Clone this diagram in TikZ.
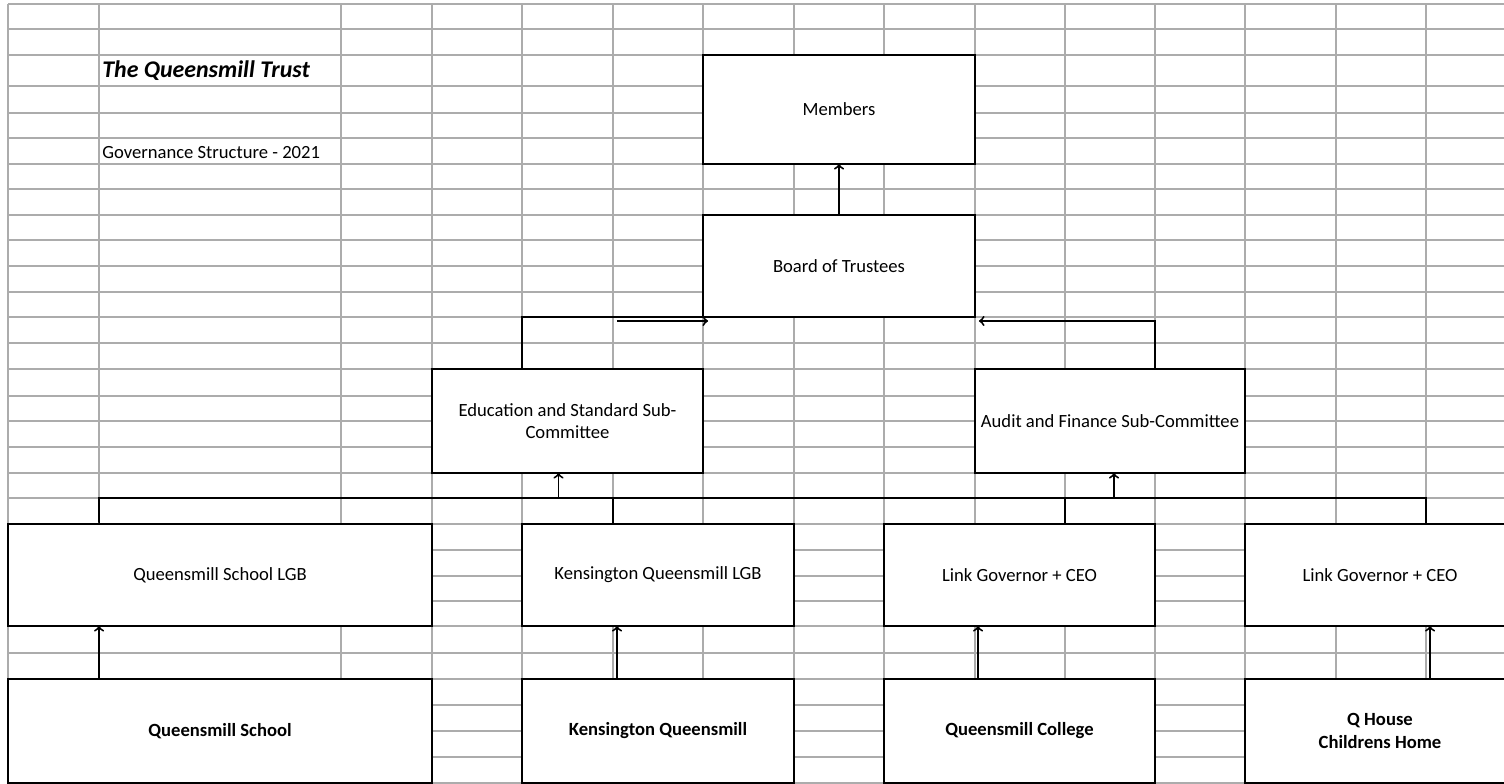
\documentclass[tikz,border=0pt]{standalone}
\usepackage{fontspec}
\setmainfont{Carlito}
\usepackage{tikz}
\usetikzlibrary{positioning}
\usetikzlibrary{arrows,shapes}
\usetikzlibrary{calc}
\definecolor{gridgrey}{RGB}{172,172,172}
\newcommand{\cellfont}{\fontsize{10.6pt}{12.6pt}\selectfont}
\newcommand{\titlefont}{\fontsize{13.6pt}{16pt}\selectfont\bfseries\itshape}
\tikzstyle{cellbox}=[rectangle,draw=black,fill=white,line width=0.9pt,inner sep=0pt,outer sep=0pt,align=center,font=\cellfont]
\tikzstyle{schoolbox}=[cellbox,font=\cellfont\bfseries]
\tikzstyle{gridline} = [draw,gridgrey,line width=1.1pt]
\tikzstyle{link} = [draw,line width=0.9pt]
\tikzstyle{flow} = [draw,line width=1.1pt,->]

\begin{document}
\begin{tikzpicture}[x=0.02cm,y=-0.02cm]
    \useasboundingbox (0,0) rectangle (1504,784);

    % spreadsheet grid
    \foreach \col in {8,99,341,432,522,613,703,794,884,975,1065,1155,1245,1336,1426}
        \path[gridline] (\col,4) -- (\col,784);
    \foreach \row in {4,29,55,86,113,138,164,189,215,240,266,292,317,343,369,396,421,447,473,498,524,550,576,601,626,653,679,705,731,757,783}
        \path[gridline] (8,\row) -- (1504,\row);

    \node[anchor=west,inner sep=0pt,font=\titlefont] (title) at (102,71) {The Queensmill Trust};
    \node[anchor=west,inner sep=0pt,font=\cellfont] (subtitle) at (102,153) {Governance Structure - 2021};

    \foreach \pos/\w/\h/\name/\txt in {{(839,109.5)/5.44/2.18/members/Members}, {(839,266)/5.44/2.04/board/Board of Trustees}, {(567.5,421)/5.42/2.08/edu/Education and Standard Sub-\\Committee}, {(1110,421)/5.40/2.08/audit/Audit and Finance Sub-Committee}, {(220,575)/8.48/2.04/qslgb/Queensmill School LGB}, {(658,575)/5.44/2.04/klgb/Kensington Queensmill LGB}, {(1019.5,575)/5.42/2.04/linkcol/Link Governor + CEO}, {(1380,575)/5.40/2.04/linkqh/Link Governor + CEO}}
        \node[cellbox,minimum width=\w cm,minimum height=\h cm] (\name) at \pos {\txt};

    \foreach \pos/\w/\name/\txt in {{(220,731)/8.48/qs/Queensmill School}, {(658,731)/5.44/kq/Kensington Queensmill}, {(1019.5,731)/5.42/qc/Queensmill College}, {(1380,731)/5.40/qh/Q House\\Childrens Home}}
        \node[schoolbox,minimum width=\w cm,minimum height=2.08cm] (\name) at \pos {\txt};

    % committees up to the board
    \draw[flow] (board.north) -- (members.south);
    \draw[link] ($(edu.north west)+(90,0)$) |- (board.south west);
    \draw[flow] ($(board.south west)+(-86,4)$) -- ($(board.south west)+(5,4)$);
    \draw[flow] ($(audit.north east)+(-90,0)$) |- ($(board.south east)+(4,4)$);

    % local boards up to the committees
    \coordinate (barwest) at (99,498);
    \coordinate (bareast) at (1426,498);
    \draw[link] ($(qslgb.north west)+(91,0)$) -- (barwest) -- (bareast) -- (bareast |- linkqh.north);
    \draw[link] ($(klgb.north west)+(91,0)$) -- ++(0,-26);
    \draw[link] ($(linkcol.north west)+(181,0)$) -- ++(0,-26);
    \draw[flow] ($(edu.south)+(-9,25)$) -- ($(edu.south)+(-9,0)$);
    \draw[flow] ($(audit.south)+(4,25)$) -- ($(audit.south)+(4,0)$);

    \foreach \low/\up/\dx in {qs/qslgb/91, kq/klgb/95, qc/linkcol/94, qh/linkqh/185}
        \draw[flow] ($(\low.north west)+(\dx,0)$) -- ($(\up.south west)+(\dx,0)$);

\end{tikzpicture}
\end{document}
